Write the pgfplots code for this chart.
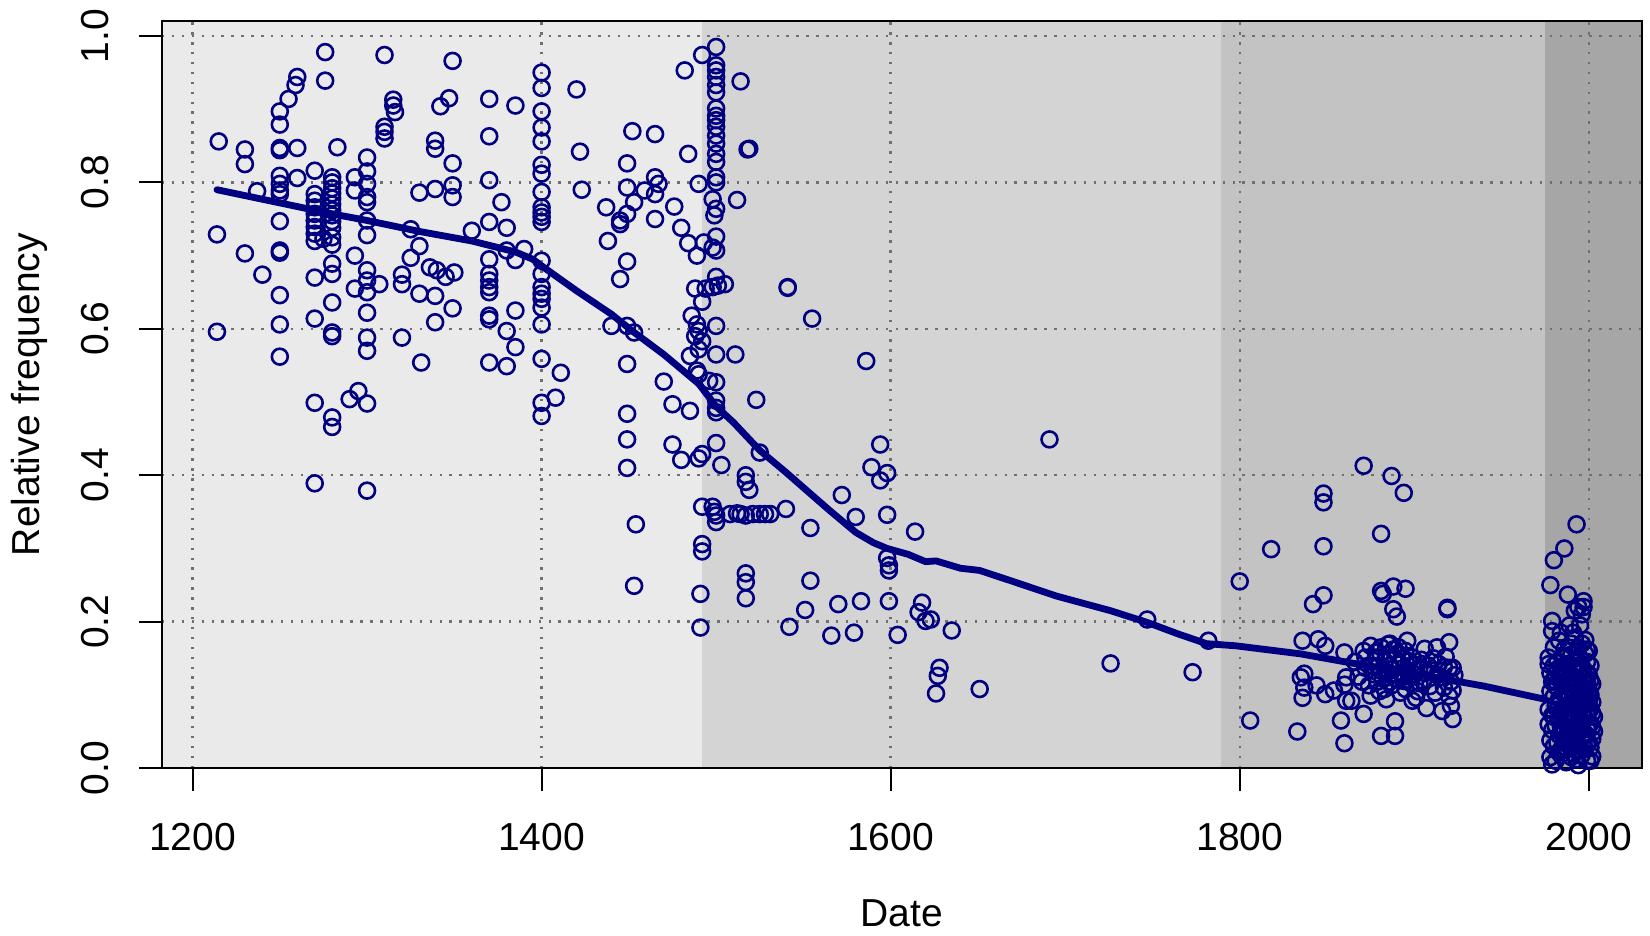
\documentclass[border=0pt]{standalone}
\usepackage{pgfplots}
\pgfplotsset{compat=1.18}
\usepackage{pgfplotstable}
\usepackage{fontspec}
\setmainfont{Liberation Sans}
\definecolor{bandA}{HTML}{EAEAEA}
\definecolor{bandB}{HTML}{D4D4D4}
\definecolor{bandC}{HTML}{C3C3C3}
\definecolor{bandD}{HTML}{A6A6A6}
\definecolor{pts}{HTML}{000080}
\definecolor{gridc}{HTML}{707070}

\pgfplotstableread{
x y
1215 0.856
1214 0.729
1214 0.596
1230 0.845
1230 0.825
1230 0.703
1240 0.674
1237 0.788
1250 0.897
1250 0.879
1250 0.847
1250 0.844
1250 0.809
1250 0.798
1250 0.789
1250 0.784
1250 0.747
1250 0.707
1250 0.704
1250 0.646
1250 0.606
1250 0.562
1255 0.914
1259 0.933
1260 0.944
1260 0.847
1260 0.806
1270 0.816
1270 0.784
1270 0.775
1270 0.766
1270 0.757
1270 0.748
1270 0.739
1270 0.730
1270 0.720
1270 0.670
1270 0.614
1270 0.499
1270 0.389
1276 0.978
1276 0.939
1280 0.807
1280 0.800
1280 0.792
1280 0.785
1280 0.778
1280 0.770
1280 0.762
1280 0.755
1280 0.747
1280 0.738
1280 0.725
1280 0.715
1275 0.723
1280 0.689
1280 0.675
1280 0.636
1280 0.595
1280 0.590
1280 0.479
1280 0.466
1283 0.848
1293 0.807
1293 0.789
1293 0.700
1293 0.655
1290 0.504
1295 0.515
1300 0.834
1300 0.815
1300 0.798
1300 0.780
1300 0.773
1300 0.748
1300 0.728
1300 0.680
1300 0.666
1300 0.650
1300 0.622
1300 0.588
1300 0.570
1300 0.498
1300 0.379
1307 0.661
1310 0.974
1310 0.876
1310 0.869
1310 0.860
1315 0.913
1315 0.905
1316 0.896
1320 0.674
1320 0.661
1320 0.588
1325 0.736
1330 0.713
1325 0.697
1330 0.786
1330 0.648
1331 0.554
1336 0.684
1340 0.680
1345 0.671
1350 0.677
1339 0.857
1339 0.846
1339 0.791
1339 0.645
1339 0.609
1342 0.904
1347 0.915
1349 0.966
1349 0.826
1349 0.796
1349 0.780
1349 0.628
1360 0.734
1370 0.914
1370 0.863
1370 0.803
1370 0.746
1370 0.695
1370 0.675
1370 0.666
1370 0.657
1370 0.650
1370 0.618
1370 0.613
1370 0.554
1377 0.773
1380 0.738
1380 0.707
1385 0.905
1385 0.625
1380 0.597
1385 0.575
1380 0.549
1385 0.694
1390 0.709
1400 0.950
1400 0.929
1400 0.897
1400 0.875
1400 0.856
1400 0.824
1400 0.812
1400 0.787
1400 0.766
1400 0.759
1400 0.753
1400 0.746
1400 0.693
1400 0.675
1400 0.657
1400 0.648
1400 0.641
1400 0.629
1400 0.606
1400 0.559
1400 0.499
1400 0.481
1411 0.540
1408 0.506
1420 0.927
1422 0.842
1423 0.790
1437 0.766
1438 0.720
1445 0.748
1445 0.743
1445 0.668
1449 0.826
1449 0.793
1449 0.757
1453 0.773
1449 0.692
1452 0.870
1465 0.866
1459 0.789
1465 0.807
1467 0.798
1465 0.784
1465 0.750
1476 0.767
1480 0.738
1484 0.717
1489 0.700
1490 0.798
1482 0.953
1484 0.839
1492 0.974
1500 0.985
1500 0.960
1500 0.953
1500 0.944
1500 0.933
1500 0.923
1500 0.901
1500 0.891
1500 0.885
1500 0.876
1500 0.864
1500 0.853
1500 0.839
1500 0.828
1500 0.807
1500 0.800
1498 0.777
1500 0.764
1499 0.755
1500 0.726
1498 0.711
1500 0.707
1493 0.718
1514 0.938
1518 0.845
1519 0.846
1512 0.776
1488 0.655
1494 0.655
1498 0.657
1501 0.659
1505 0.661
1500 0.671
1492 0.637
1486 0.618
1489 0.606
1490 0.597
1488 0.590
1492 0.583
1490 0.572
1500 0.604
1485 0.563
1500 0.565
1511 0.565
1541 0.657
1541 0.656
1555 0.614
1586 0.556
1440 0.604
1449 0.604
1453 0.595
1449 0.552
1470 0.528
1489 0.543
1490 0.538
1496 0.529
1500 0.527
1475 0.497
1485 0.488
1500 0.502
1500 0.492
1500 0.486
1523 0.503
1449 0.484
1449 0.449
1449 0.410
1475 0.442
1480 0.421
1490 0.423
1492 0.429
1500 0.444
1503 0.414
1525 0.431
1517 0.400
1517 0.391
1519 0.380
1492 0.357
1498 0.357
1499 0.350
1500 0.345
1500 0.336
1508 0.347
1512 0.348
1514 0.347
1517 0.345
1521 0.347
1525 0.347
1528 0.347
1531 0.347
1540 0.354
1454 0.333
1492 0.306
1492 0.296
1554 0.328
1572 0.373
1580 0.343
1594 0.442
1589 0.411
1594 0.393
1598 0.403
1598 0.346
1614 0.323
1598 0.287
1599 0.277
1599 0.270
1453 0.249
1517 0.266
1517 0.254
1517 0.232
1554 0.256
1491 0.238
1491 0.192
1551 0.216
1542 0.193
1570 0.224
1566 0.181
1583 0.228
1579 0.185
1599 0.228
1604 0.182
1618 0.226
1616 0.213
1620 0.201
1623 0.203
1635 0.188
1628 0.137
1627 0.126
1626 0.102
1691 0.449
1651 0.108
1726 0.143
1747 0.203
1773 0.131
1782 0.174
1800 0.255
1806 0.065
1818 0.299
1848 0.375
1848 0.363
1848 0.303
1848 0.236
1842 0.224
1836 0.174
1845 0.176
1849 0.167
1860 0.158
1835 0.124
1837 0.129
1837 0.110
1836 0.096
1844 0.113
1849 0.101
1854 0.106
1860 0.114
1861 0.124
1861 0.092
1833 0.050
1858 0.065
1860 0.034
1871 0.413
1887 0.399
1894 0.376
1881 0.320
1881 0.242
1882 0.238
1888 0.248
1895 0.245
1888 0.217
1890 0.207
1919 0.219
1919 0.217
1871 0.160
1875 0.167
1881 0.165
1885 0.169
1888 0.162
1896 0.174
1906 0.163
1913 0.165
1920 0.172
1872 0.151
1878 0.151
1883 0.146
1889 0.149
1892 0.142
1899 0.151
1903 0.137
1872 0.137
1877 0.128
1881 0.133
1885 0.124
1890 0.128
1894 0.119
1900 0.128
1905 0.119
1910 0.133
1915 0.124
1920 0.137
1922 0.137
1864 0.092
1871 0.074
1875 0.099
1884 0.094
1892 0.103
1901 0.096
1907 0.082
1916 0.078
1921 0.085
1922 0.067
1889 0.064
1881 0.044
1889 0.044
1866 0.145
1868 0.125
1874 0.113
1879 0.118
1883 0.108
1886 0.140
1887 0.113
1890 0.156
1893 0.131
1895 0.108
1897 0.146
1898 0.116
1902 0.105
1904 0.148
1908 0.140
1909 0.112
1911 0.150
1912 0.103
1914 0.142
1917 0.110
1918 0.152
1920 0.098
1921 0.118
1922 0.106
1923 0.127
1878 0.158
1884 0.155
1886 0.170
1891 0.165
1880 0.105
1876 0.140
1895 0.160
1899 0.092
1882 0.122
1887 0.135
1891 0.121
1893 0.150
1896 0.134
1897 0.125
1901 0.141
1903 0.116
1906 0.130
1913 0.127
1917 0.138
1870 0.118
1879 0.139
1884 0.131
1886 0.118
1993 0.333
1986 0.300
1980 0.284
1978 0.250
1988 0.237
1994 0.220
1997 0.220
1996 0.210
1979 0.201
1979 0.187
1992 0.178
1983 0.174
1986 0.162
1998 0.156
1977 0.151
1977 0.142
1978 0.130
1980 0.120
1982 0.135
1984 0.118
1986 0.128
1988 0.140
1990 0.125
1992 0.132
1994 0.145
1996 0.138
1998 0.122
2000 0.128
2002 0.115
1978 0.105
1980 0.098
1982 0.110
1984 0.092
1986 0.102
1988 0.095
1990 0.108
1992 0.088
1994 0.100
1996 0.112
1998 0.096
2000 0.105
2002 0.090
1977 0.080
1979 0.072
1981 0.085
1983 0.068
1985 0.078
1987 0.082
1989 0.070
1991 0.076
1993 0.084
1995 0.066
1997 0.079
1999 0.073
2001 0.081
2003 0.070
1977 0.060
1979 0.052
1981 0.058
1983 0.045
1985 0.055
1987 0.062
1989 0.048
1991 0.057
1993 0.050
1995 0.059
1997 0.046
1999 0.054
2001 0.061
2003 0.050
1978 0.038
1980 0.030
1982 0.035
1984 0.025
1986 0.040
1988 0.032
1990 0.028
1992 0.037
1994 0.030
1996 0.042
1998 0.026
2000 0.035
2002 0.040
1978 0.015
1981 0.010
1984 0.018
1987 0.008
1990 0.015
1993 0.012
1996 0.018
1999 0.010
2002 0.016
1979 0.005
1994 0.004
1980 0.165
1985 0.150
1990 0.155
1995 0.150
1999 0.145
1982 0.145
1988 0.160
1993 0.160
1996 0.170
1991 0.185
1989 0.195
1984 0.185
2000 0.160
1995 0.195
1997 0.228
1992 0.215
1985 0.112
1987 0.118
1989 0.088
1991 0.098
1993 0.115
1995 0.090
1997 0.102
1999 0.118
2001 0.100
1986 0.065
1988 0.075
1990 0.062
1992 0.070
1994 0.078
1996 0.064
1998 0.068
2000 0.078
1985 0.030
1989 0.040
1991 0.020
1995 0.025
1997 0.036
2001 0.028
1983 0.125
1985 0.135
1991 0.140
1997 0.135
1999 0.130
1998 0.175
1990 0.170
1980 0.140
1981 0.112
1983 0.095
1984 0.075
1987 0.098
1988 0.115
1989 0.130
1990 0.090
1991 0.118
1992 0.104
1993 0.094
1994 0.120
1995 0.130
1996 0.085
1997 0.118
1998 0.108
1999 0.088
2000 0.092
2001 0.120
2002 0.075
1982 0.080
1984 0.058
1986 0.050
1988 0.055
1990 0.045
1992 0.052
1994 0.060
1996 0.052
1998 0.047
2000 0.060
2002 0.056
1980 0.070
1983 0.022
1987 0.028
1993 0.030
1999 0.032
2001 0.010
1979 0.118
1981 0.128
1987 0.142
1994 0.165
1999 0.162
2001 0.140
}\pointdata

\pgfplotstableread{
x y
1214 0.790
1250 0.772
1280 0.757
1300 0.748
1330 0.733
1360 0.720
1385 0.705
1395 0.695
1400 0.686
1420 0.652
1440 0.620
1452 0.597
1470 0.565
1490 0.525
1500 0.494
1510 0.472
1525 0.434
1540 0.404
1552 0.379
1565 0.352
1580 0.322
1590 0.308
1598 0.300
1610 0.292
1620 0.282
1626 0.283
1640 0.273
1651 0.270
1670 0.255
1695 0.235
1726 0.215
1747 0.199
1765 0.183
1781 0.170
1798 0.167
1835 0.156
1863 0.144
1900 0.129
1940 0.112
1975 0.094
}\linedata

\begin{document}
\begin{tikzpicture}
\begin{axis}[
  name=ax,
  set layers,
  scale only axis,
  width=455.4pt, height=229.9pt,
  xmin=1182.5, xmax=2030.5,
  ymin=0, ymax=1.0205,
  xtick={1200,1400,1600,1800,2000},
  ytick={0,0.2,0.4,0.6,0.8,1.0},
  xtick pos=bottom, ytick pos=left,
  tick align=outside,
  major tick length=7.1pt,
  tick style={black, line width=0.6pt},
  axis line style={black, line width=0.6pt},
  grid=major,
  major grid style={gridc, line width=0.75pt, dash pattern=on 0.75pt off 2.3pt},
  /pgf/number format/assume math mode=true,
  xticklabel style={/pgf/number format/1000 sep={}, font=\fontsize{12}{14}\selectfont},
  yticklabel style={/pgf/number format/fixed, /pgf/number format/fixed zerofill,
     /pgf/number format/precision=1, rotate=90, anchor=south,
     font=\fontsize{12}{14}\selectfont},
  xticklabel shift=6.4pt,
  yticklabel shift=5.8pt,
  xlabel={Date},
  ylabel={Relative frequency},
  xlabel style={font=\fontsize{12}{14}\selectfont, inner sep=0pt,
     at={(axis description cs:0.5,-0.1754)}, anchor=north},
  ylabel style={font=\fontsize{12}{14}\selectfont, inner sep=0pt,
     at={(axis description cs:-0.1024,0.5)}, anchor=north, rotate=0},
]
\addplot[draw=none, fill=bandA, on layer=axis background] coordinates {(1182.5,0) (1492,0) (1492,1.0205) (1182.5,1.0205)} -- cycle;
\addplot[draw=none, fill=bandB, on layer=axis background] coordinates {(1492,0) (1789,0) (1789,1.0205) (1492,1.0205)} -- cycle;
\addplot[draw=none, fill=bandC, on layer=axis background] coordinates {(1789,0) (1975,0) (1975,1.0205) (1789,1.0205)} -- cycle;
\addplot[draw=none, fill=bandD, on layer=axis background] coordinates {(1975,0) (2030.5,0) (2030.5,1.0205) (1975,1.0205)} -- cycle;
\addplot[only marks, mark=o, mark size=2.45pt, mark options={pts, line width=0.8pt}] table[x=x,y=y] {\pointdata};
\addplot[pts, line width=2.1pt, line join=round, line cap=round, no marks] table[x=x,y=y] {\linedata};
\end{axis}
\pgfresetboundingbox
\path[use as bounding box] ([xshift=-49.85pt,yshift=-51.4pt]ax.south west) rectangle ([xshift=2.46pt,yshift=6.46pt]ax.north east);
\end{tikzpicture}
\end{document}
